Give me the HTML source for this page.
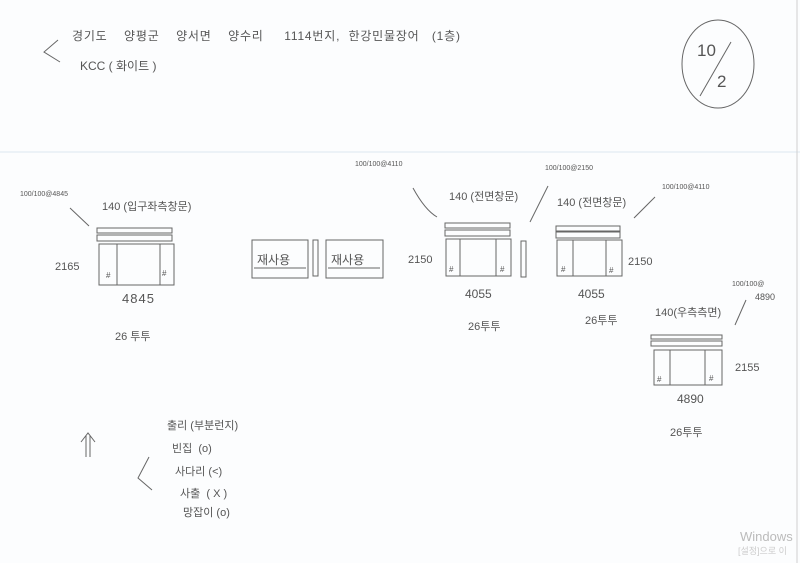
<!DOCTYPE html>
<html><head><meta charset="utf-8"><style>
html,body{margin:0;padding:0;background:#fcfdfe;}
svg{display:block}
text{font-family:"Liberation Sans","Noto Sans CJK KR","NanumGothic",sans-serif;fill:#555;}
</style></head><body>
<svg width="800" height="563" viewBox="0 0 800 563" xmlns="http://www.w3.org/2000/svg">
<rect width="800" height="563" fill="#fcfdfe"/>
<line x1="0" y1="152" x2="800" y2="152" stroke="#dde6f0" stroke-width="1"/>
<line x1="797" y1="0" x2="797" y2="563" stroke="#d0d0d0" stroke-width="1"/>
<g stroke="#666" stroke-width="1" fill="none">
<polyline points="58,40 44,52 60,62"/>
<ellipse cx="718" cy="64" rx="36" ry="44"/>
<line x1="731" y1="42" x2="700" y2="96"/>
<rect x="97" y="228" width="75" height="5"/><rect x="97" y="235" width="75" height="6"/>
<rect x="99" y="244" width="75" height="41"/><line x1="117" y1="244" x2="117" y2="285"/><line x1="160" y1="244" x2="160" y2="285"/>
<line x1="70" y1="208" x2="89" y2="226"/>
<rect x="252" y="240" width="56" height="38"/><line x1="254" y1="268" x2="306" y2="268"/>
<rect x="313" y="240" width="5" height="36"/>
<rect x="326" y="240" width="57" height="38"/><line x1="328" y1="268" x2="380" y2="268"/>
<rect x="445" y="223" width="65" height="5"/><rect x="445" y="230" width="65" height="6"/>
<rect x="446" y="239" width="65" height="37"/><line x1="460" y1="239" x2="460" y2="276"/><line x1="496" y1="239" x2="496" y2="276"/>
<rect x="521" y="241" width="5" height="36"/>
<path d="M413,188 Q425,210 437,217"/><line x1="548" y1="186" x2="530" y2="222"/>
<rect x="556" y="226" width="64" height="5"/><rect x="556" y="232" width="64" height="6"/>
<rect x="557" y="240" width="65" height="36"/><line x1="573" y1="240" x2="573" y2="276"/><line x1="606" y1="240" x2="606" y2="276"/>
<line x1="655" y1="197" x2="634" y2="218"/>
<rect x="651" y="335" width="71" height="4"/><rect x="651" y="341" width="71" height="5"/>
<rect x="654" y="350" width="68" height="35"/><line x1="670" y1="350" x2="670" y2="385"/><line x1="705" y1="350" x2="705" y2="385"/>
<line x1="746" y1="300" x2="735" y2="325"/>
<line x1="86" y1="436" x2="86" y2="457"/><line x1="90" y1="436" x2="90" y2="457"/>
<polyline points="81,442 88,433 95,442"/>
<polyline points="149,457 138,478 152,490"/>
</g>
<g font-size="11">
<text x="72" y="40" font-size="12" textLength="388" lengthAdjust="spacing">경기도&#160;&#160;&#160;&#160;양평군&#160;&#160;&#160;&#160;양서면&#160;&#160;&#160;&#160;양수리&#160;&#160;&#160;&#160;&#160;1114번지,&#160;&#160;한강민물장어&#160;&#160;&#160;(1층)</text>
<text x="80" y="70" font-size="12">KCC ( 화이트 )</text>
<text x="697" y="56" font-size="17">10</text>
<text x="717" y="87" font-size="17">2</text>
<text x="20" y="196" font-size="7">100/100@4845</text>
<text x="102" y="210">140 (입구좌측창문)</text>
<text x="55" y="270">2165</text>
<text x="106" y="278" font-size="8">#</text><text x="162" y="276" font-size="8">#</text>
<text x="122" y="303" font-size="13" letter-spacing="1">4845</text>
<text x="115" y="340">26 투투</text>
<text x="257" y="264" font-size="12">재사용</text>
<text x="331" y="264" font-size="12">재사용</text>
<text x="355" y="166" font-size="7">100/100@4110</text>
<text x="545" y="170" font-size="7">100/100@2150</text>
<text x="449" y="200">140 (전면창문)</text>
<text x="408" y="263">2150</text>
<text x="449" y="272" font-size="8">#</text><text x="500" y="272" font-size="8">#</text>
<text x="465" y="298" font-size="12">4055</text>
<text x="468" y="330">26투투</text>
<text x="557" y="206">140 (전면창문)</text>
<text x="662" y="189" font-size="7">100/100@4110</text>
<text x="628" y="265">2150</text>
<text x="561" y="272" font-size="8">#</text><text x="609" y="273" font-size="8">#</text>
<text x="578" y="298" font-size="12">4055</text>
<text x="585" y="324">26투투</text>
<text x="732" y="286" font-size="7">100/100@</text>
<text x="755" y="300" font-size="9">4890</text>
<text x="655" y="316">140(우측측면)</text>
<text x="735" y="371">2155</text>
<text x="657" y="382" font-size="8">#</text><text x="709" y="381" font-size="8">#</text>
<text x="677" y="403" font-size="12">4890</text>
<text x="670" y="436">26투투</text>
<text x="167" y="429">출리 (부분런지)</text>
<text x="172" y="452">빈집&#160;&#160;(o)</text>
<text x="175" y="475">사다리 (&lt;)</text>
<text x="180" y="497">사출&#160;&#160;( X )</text>
<text x="183" y="516">망잡이 (o)</text>
<text x="740" y="541" font-size="13" style="fill:#bbb">Windows</text>
<text x="738" y="554" font-size="9" style="fill:#ccc">[설정]으로 이</text>
</g>
</svg>
</body></html>
